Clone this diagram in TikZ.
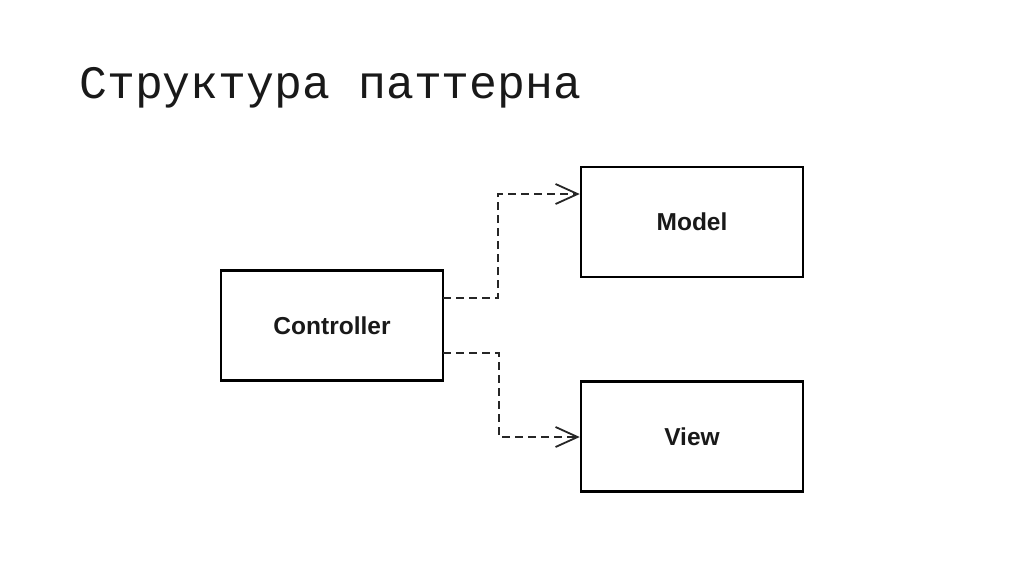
\documentclass[tikz,border=0pt]{standalone}
\usepackage{fontspec}
\setmainfont{Liberation Sans}
\newfontfamily\titlefont{Liberation Mono}
\usetikzlibrary{arrows.meta}
\tikzset{
  box/.style={draw=black, line width=2.5pt, minimum width=222pt, minimum height=110pt, inner sep=0pt, font=\fontsize{24.5}{28}\selectfont\bfseries, text=black!90},
  dep/.style={draw=black!85, line width=2.3pt, dash pattern=on 8pt off 5pt, -{Straight Barb[length=22pt,width=20pt,line width=1.8pt]}},
}
\begin{document}
\begin{tikzpicture}[x=1pt,y=-1pt]
\useasboundingbox (0,0) rectangle (1024,574);
\node[anchor=base west, inner sep=0pt, font=\titlefont\fontsize{46.5}{50}\selectfont, text=black!90] (title) at (79,98) {Структура паттерна};
\node[box] (ctrl) at (332,325.5) {Controller};
\node[box] (model) at (692,222) {Model};
\node[box] (view) at (692,436.5) {View};
\coordinate (c1) at (443,298);
\coordinate (c2) at (443,353);
\draw[dep] (c1) -- (498,298) |- (model.west |- 0,194);
\draw[dep] (c2) -- (499,353) |- (view.west |- 0,437);
\end{tikzpicture}
\end{document}
